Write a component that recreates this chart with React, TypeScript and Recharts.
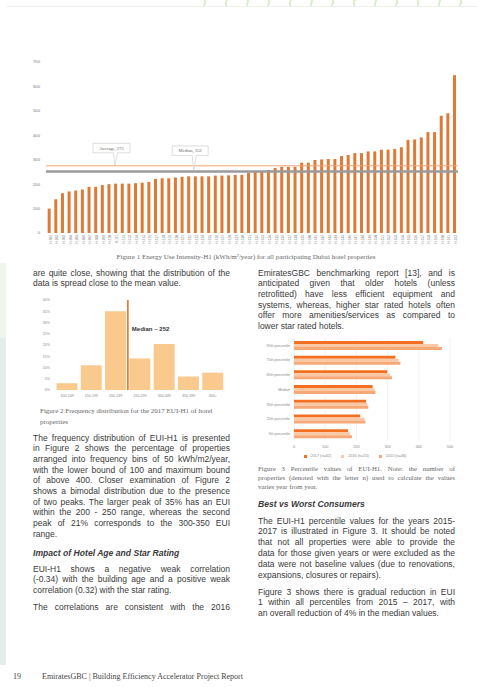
import React from 'react';
import { BarChart, Bar, XAxis, YAxis, CartesianGrid, ReferenceLine, Legend } from 'recharts';

// ---------- Figure 1 data ----------
const hotelCodes = [
  'H-101', 'H-102', 'H-103', 'H-104', 'H-105', 'H-106', 'H-107', 'H-108', 'H-109', 'H-110',
  'H-111', 'H-112', 'H-113', 'H-114', 'H-115', 'H-116', 'H-117', 'H-118', 'H-119', 'H-120',
  'H-121', 'H-122', 'H-123', 'H-124', 'H-125', 'H-126', 'H-127', 'H-128', 'H-129', 'H-130',
  'H-131', 'H-132', 'H-133', 'H-134', 'H-135', 'H-136', 'H-137', 'H-138', 'H-139', 'H-140',
  'H-141', 'H-142', 'H-143', 'H-144', 'H-145', 'H-146', 'H-147', 'H-148', 'H-149', 'H-150',
  'H-151', 'H-152', 'H-153', 'H-154', 'H-155', 'H-156', 'H-157', 'H-158', 'H-159', 'H-160',
  'H-161', 'H-162',
];
const euiValues = [
  100, 138, 163, 170, 174, 178, 189, 189, 196, 200,
  202, 202, 202, 204, 206, 209, 221, 224, 224, 227,
  230, 232, 232, 232, 232, 235, 235, 236, 238, 238,
  247, 250, 252, 258, 266, 271, 271, 271, 288, 288,
  299, 301, 303, 303, 315, 319, 327, 327, 334, 334,
  341, 341, 344, 351, 381, 383, 391, 413, 413, 480,
  490, 646,
];
const euiTicks = [0, 100, 200, 300, 400, 500, 600, 700];
const averageEui = 275;
const medianEui = 252;

// ---------- Figure 2 data ----------
const binLabels = ['100-149', '150-199', '200-249', '250-299', '300-349', '350-399', '400+'];
const binShares = [3, 11, 35, 14, 20.5, 6, 7.7];
const shareTicks = [0, 5, 10, 15, 20, 25, 30, 35, 40];

// ---------- Figure 3 data ----------
const percentileLabels = ['95th percentile', '75th percentile', '65th percentile', 'Median', '35th percentile', '25th percentile', '5th percentile'];
const eui2017 = [414, 325, 299, 252, 231, 212, 173];
const eui2016 = [462, 336, 308, 258, 235, 226, 180];
const eui2015 = [474, 341, 314, 261, 238, 229, 186];
const percTicks = [0, 100, 200, 300, 400, 500];
const seriesOrder = ['2017 (n=62)', '2016 (n=55)', '2015 (n=46)'];

const fig1Data = hotelCodes.map((c, i) => ({ code: c, eui: euiValues[i] }));
const fig2Data = binLabels.map((b, i) => ({ bin: b, share: binShares[i] }));
const fig3Data = percentileLabels.map((p, i) => ({ label: p, y2017: eui2017[i], y2016: eui2016[i], y2015: eui2015[i] }));

const SANS = '"Liberation Sans", Arial, sans-serif';
const SERIF = '"Liberation Serif", "Times New Roman", serif';
const BODY = 8.5;

const Callout = (props: any) => {
  const { viewBox, text, frac, w, lift } = props;
  if (!viewBox) return null;
  const cx = viewBox.x + viewBox.width * frac;
  const ly = viewBox.y;
  const h = 9.5;
  const top = ly - lift - h;
  const bot = ly - lift;
  const pts = [
    [cx - w / 2, top], [cx + w / 2, top], [cx + w / 2, bot], [cx + 6, bot], [cx + 3.5, ly - 0.5], [cx + 2, bot], [cx - w / 2, bot],
  ].map((p) => p.join(',')).join(' ');
  return (
    <g>
      <polygon points={pts} fill="#fff" stroke="#c8c8c8" strokeWidth={0.6} />
      <text x={cx} y={top + 6.3} fontSize={4.6} textAnchor="middle" fill="#666" fontFamily={SERIF}>{text}</text>
    </g>
  );
};

const MedianLabel = (props: any) => {
  const { viewBox } = props;
  if (!viewBox) return null;
  return (
    <text x={viewBox.x + 4} y={viewBox.y + 31} fontSize={6} fontWeight={600} fill="#333" fontFamily={SANS}>Median ~ 252</text>
  );
};

const CatTick = (props: any) => {
  const { x, y, payload } = props;
  return (
    <text x={x} y={y} dy={1.3} textAnchor="end" fontSize={3.6} fill="#888" fontFamily={SANS}>{payload.value}</text>
  );
};

type ParaProps = { x: number; y: number; w: number; lh: number; size: number; lines: string[]; justifyLast?: boolean; noJustify?: boolean; font?: string; color?: string; style?: React.CSSProperties };
const Para = ({ x, y, w, lh, size, lines, justifyLast, noJustify, font, color, style }: ParaProps) => (
  <div style={{ position: 'absolute', left: x, top: y, width: w, fontFamily: font || SANS, fontSize: size, color: color || '#3a3a3a', lineHeight: `${lh}px`, ...style }}>
    {lines.map((l, i) => {
      const last = i === lines.length - 1;
      const just = !noJustify && (!last || justifyLast);
      return (
        <div key={i} style={{ height: lh, whiteSpace: 'nowrap', textAlign: just ? 'justify' : 'left', textAlignLast: just ? 'justify' : 'left' } as React.CSSProperties}>{l}</div>
      );
    })}
  </div>
);

export default function App() {
  return (
    <div style={{ position: 'absolute', left: 0, top: 0, width: 477, height: 687, background: '#fff', overflow: 'hidden' }}>
      {/* page decorations */}
      <div style={{ position: 'absolute', left: 185, top: 0, width: 292, height: 6, backgroundImage: 'repeating-linear-gradient(100deg, transparent 0px, transparent 19px, #dcefcb 19px, #dcefcb 21px)' }} />
      <div style={{ position: 'absolute', left: 6, top: 6, width: 471, height: 1, background: '#eef1ee' }} />
      <div style={{ position: 'absolute', left: 0, top: 263, width: 6, height: 75, background: '#eef6ec' }} />
      <div style={{ position: 'absolute', left: 0, top: 338, width: 6, height: 327, background: '#e3ede9' }} />

      {/* Figure 1 */}
      <div style={{ position: 'absolute', left: 20, top: 55 }}>
        <BarChart width={445} height={200} data={fig1Data} margin={{ top: 7, right: 7, bottom: 8, left: 0 }} barCategoryGap="25%">
          <XAxis dataKey="code" interval={0} axisLine={false} tickLine={false} height={14} angle={-90} textAnchor="end" tickSize={1} tickMargin={1} tick={{ fontSize: 3.2, fill: '#777', fontFamily: SANS }} />
          <YAxis type="number" domain={[0, 700]} ticks={euiTicks} axisLine={false} tickLine={false} width={26} tickSize={4} tickMargin={2} tick={{ fontSize: 4.2, fill: '#777', fontFamily: SANS }} />
          <Bar dataKey="eui" fill="#df7a36" isAnimationActive={false} />
          <ReferenceLine y={averageEui} stroke="#f2a273" strokeWidth={1} label={<Callout text="Average, 275" frac={0.159} w={37} lift={13} />} />
          <ReferenceLine y={medianEui} stroke="#9a9a9a" strokeWidth={2.4} label={<Callout text="Median, 252" frac={0.35} w={36} lift={16} />} />
        </BarChart>
      </div>
      <div style={{ position: 'absolute', left: 0, top: 252.5, width: 492, textAlign: 'center', fontFamily: SERIF, fontSize: 7, color: '#666', whiteSpace: 'nowrap' }}>
        Figure 1 Energy Use Intensity-H1 (kWh/m²/year) for all participating Dubai hotel properties
      </div>

      {/* Left column */}
      <Para x={33} y={267.5} w={197} lh={10.8} size={BODY} lines={['are quite close, showing that the distribution of the', 'data is spread close to the mean value.']} />

      {/* Figure 2 */}
      <div style={{ position: 'absolute', left: 20, top: 295 }}>
        <BarChart width={210} height={108} data={fig2Data} margin={{ top: 5, right: 5, bottom: 2, left: 0 }} barCategoryGap={1.5}>
          <XAxis dataKey="bin" interval={0} axisLine={false} tickLine={false} height={11} tickSize={2} tickMargin={2} tick={{ fontSize: 3.6, fill: '#888', fontFamily: SANS }} />
          <YAxis type="number" domain={[0, 40]} ticks={shareTicks} tickFormatter={(v: number) => `${v}%`} axisLine={false} tickLine={false} width={35} tickSize={3} tickMargin={2} tick={{ fontSize: 3.6, fill: '#888', fontFamily: SANS }} />
          <Bar dataKey="share" fill="#f9c98e" isAnimationActive={false} />
          <ReferenceLine x="250-299" position="start" stroke="#e57c33" strokeWidth={1.7} label={<MedianLabel />} />
        </BarChart>
      </div>
      <Para x={40} y={405.5} w={190} lh={11} size={7} font={SERIF} color="#666" noJustify lines={['Figure 2 Frequency distribution for the 2017 EUI-H1 of hotel', 'properties']} />

      <Para x={33} y={432.7} w={197} lh={10.67} size={BODY} lines={[
        'The frequency distribution of EUI-H1 is presented',
        'in Figure 2 shows the percentage of properties',
        'arranged into frequency bins of 50 kWh/m2/year,',
        'with the lower bound of 100 and maximum bound',
        'of above 400. Closer examination of Figure 2',
        'shows a bimodal distribution due to the presence',
        'of two peaks. The larger peak of 35% has an EUI',
        'within the 200 - 250 range, whereas the second',
        'peak of 21% corresponds to the 300-350 EUI',
        'range.',
      ]} />
      <Para x={33} y={548} w={197} lh={10.8} size={8.6} lines={['Impact of Hotel Age and Star Rating']} style={{ fontWeight: 700, fontStyle: 'italic' }} />
      <Para x={33} y={563.7} w={197} lh={10.8} size={BODY} lines={[
        'EUI-H1 shows a negative weak correlation',
        '(-0.34) with the building age and a positive weak',
        'correlation (0.32) with the star rating.',
      ]} />
      <Para x={33} y={601.6} w={197} lh={10.8} size={BODY} justifyLast lines={['The correlations are consistent with the 2016']} />

      {/* Right column */}
      <Para x={258} y={267.5} w={197} lh={10.7} size={BODY} lines={[
        'EmiratesGBC benchmarking report [13], and is',
        'anticipated given that older hotels (unless',
        'retrofitted) have less efficient equipment and',
        'systems, whereas, higher star rated hotels often',
        'offer more amenities/services as compared to',
        'lower star rated hotels.',
      ]} />

      {/* Figure 3 */}
      <div style={{ position: 'absolute', left: 250, top: 335 }}>
        <BarChart width={210} height={126} data={fig3Data} layout="vertical" margin={{ top: 3, right: 10, bottom: 0, left: 0 }} barCategoryGap="20%" barGap={0}>
          <CartesianGrid horizontal={false} stroke="#e8e8e8" strokeWidth={0.6} />
          <XAxis type="number" domain={[0, 500]} ticks={percTicks} axisLine={false} tickLine={false} height={10} tickSize={2} tickMargin={2} tick={{ fontSize: 3.8, fill: '#888', fontFamily: SANS }} />
          <YAxis type="category" dataKey="label" interval={0} axisLine={false} tickLine={false} width={44} tickSize={2} tickMargin={2} tick={<CatTick />} />
          <Bar dataKey="y2017" name="2017 (n=62)" fill="#f36f22" isAnimationActive={false} />
          <Bar dataKey="y2016" name="2016 (n=55)" fill="#fbc8a6" isAnimationActive={false} />
          <Bar dataKey="y2015" name="2015 (n=46)" fill="#f6a877" isAnimationActive={false} />
          <Legend verticalAlign="bottom" iconType="square" iconSize={3} itemSorter={(item: any) => seriesOrder.indexOf(item.value)} wrapperStyle={{ fontSize: 3.8, lineHeight: '10px', fontFamily: SANS, paddingLeft: 10 }} formatter={(v: string) => <span style={{ color: '#888' }}>{v}</span>} />
        </BarChart>
      </div>
      <Para x={258} y={463.5} w={197} lh={9} size={6.8} font={SERIF} color="#666" lines={[
        'Figure 3 Percentile values of EUI-H1. Note: the number of',
        'properties (denoted with the letter n) used to calculate the values',
        'varies year from year.',
      ]} />
      <Para x={258} y={498.6} w={197} lh={10.8} size={8.6} lines={['Best vs Worst Consumers']} style={{ fontWeight: 700, fontStyle: 'italic' }} />
      <Para x={258} y={515.6} w={197} lh={10.8} size={BODY} lines={[
        'The EUI-H1 percentile values for the years 2015-',
        '2017 is illustrated in Figure 3. It should be noted',
        'that not all properties were able to provide the',
        'data for those given years or were excluded as the',
        'data were not baseline values (due to renovations,',
        'expansions, closures or repairs).',
      ]} />
      <Para x={258} y={586.6} w={197} lh={10.6} size={BODY} lines={[
        'Figure 3 shows there is gradual reduction in EUI',
        '1 within all percentiles from 2015 \u2013 2017, with',
        'an overall reduction of 4% in the median values.',
      ]} />

      {/* Footer */}
      <div style={{ position: 'absolute', left: 13, top: 671.5, fontFamily: SERIF, fontSize: 8, color: '#444' }}>19</div>
      <div style={{ position: 'absolute', left: 42, top: 671.5, fontFamily: SERIF, fontSize: 8, color: '#444', whiteSpace: 'nowrap' }}>EmiratesGBC | Building Efficiency Accelerator Project Report</div>
    </div>
  );
}
